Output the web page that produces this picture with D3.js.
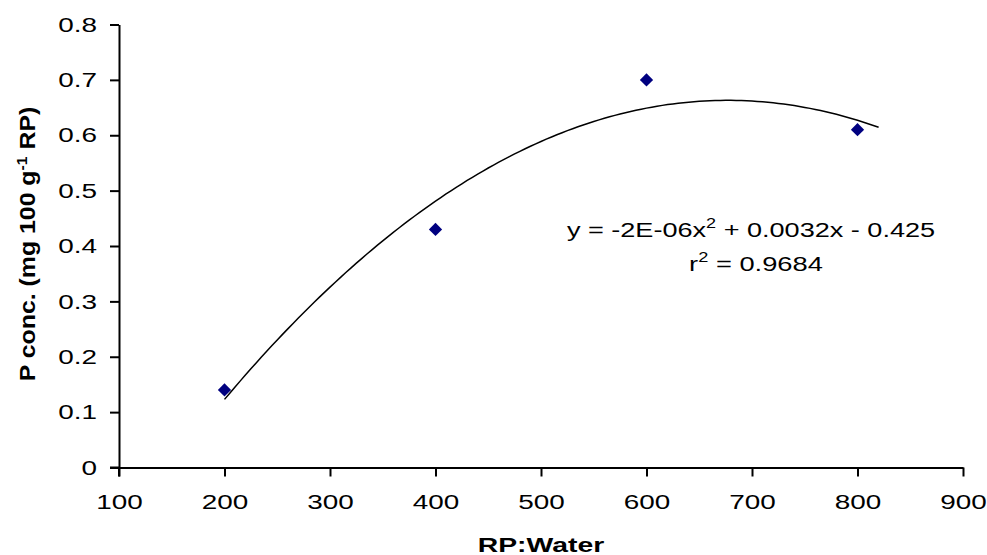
<!DOCTYPE html>
<html>
<head>
<meta charset="utf-8">
<script src="https://cdn.jsdelivr.net/npm/d3@7"></script>
<style>
body { margin: 0; background: #fff; }
text { font-family: "Liberation Sans", Arial, sans-serif; }
</style>
</head>
<body>
<div class="container"></div>
<script>
// data
var ratios = [200, 400, 600, 800];
var pConc = [0.14, 0.43, 0.70, 0.61];
var xTicks = [100, 200, 300, 400, 500, 600, 700, 800, 900];
var yTicks = [0, 0.1, 0.2, 0.3, 0.4, 0.5, 0.6, 0.7, 0.8];
var trendForward = 20; // excel trendline extended forward

var w = 987, h = 555;
var mLeft = 119, mRight = 963, mTop = 24.5, mBottom = 467.5;

var svg = d3.select('.container')
  .append('svg')
  .attr('width', w)
  .attr('height', h);

var xScale = d3.scaleLinear().domain([100, 900]).range([mLeft, mRight]);
var yScale = d3.scaleLinear().domain([0, 0.8]).range([mBottom, mTop]);

// the original font is wider than arial, stretch texts along the baseline
function stretch(sel, s) {
  sel.each(function() {
    var t = d3.select(this);
    var x = +t.attr('x') || 0;
    t.attr('x', x / s).attr('transform', 'scale(' + s + ',1)');
  });
}

// least squares quadratic fit, same as the excel trendline
function polyFit(xs, ys) {
  var s = [0,0,0,0,0], t = [0,0,0];
  xs.forEach(function(x, i) {
    for (var k = 0; k < 5; k++) s[k] += Math.pow(x, k);
    for (var k = 0; k < 3; k++) t[k] += Math.pow(x, k) * ys[i];
  });
  var m = [[s[0],s[1],s[2],t[0]],[s[1],s[2],s[3],t[1]],[s[2],s[3],s[4],t[2]]];
  for (var i = 0; i < 3; i++) {
    for (var j = i + 1; j < 3; j++) {
      var f = m[j][i] / m[i][i];
      for (var k = i; k < 4; k++) m[j][k] -= f * m[i][k];
    }
  }
  var c = [0,0,0];
  for (var i = 2; i >= 0; i--) {
    var v = m[i][3];
    for (var k = i + 1; k < 3; k++) v -= m[i][k] * c[k];
    c[i] = v / m[i][i];
  }
  return c;
}
var coef = polyFit(ratios, pConc);
var trendX = d3.range(ratios[0], ratios[ratios.length-1] + trendForward + 0.1, 5);
var trend = trendX.map(function(x) { return [x, coef[0] + coef[1]*x + coef[2]*x*x]; });

var xAxis = d3.axisBottom(xScale).tickValues(xTicks).tickSize(9).tickSizeOuter(0).tickPadding(18).tickFormat(d3.format('d'));
var yAxis = d3.axisLeft(yScale).tickValues(yTicks).tickSize(9).tickSizeOuter(0).tickPadding(13).tickFormat(function(d) { return d === 0 ? '0' : d3.format('.1f')(d); });

var xg = svg.append('g')
  .attr('transform', 'translate(0,' + mBottom + ')')
  .call(xAxis);
var yg = svg.append('g')
  .attr('transform', 'translate(' + mLeft + ',0)')
  .call(yAxis);

[xg, yg].forEach(function(g) {
  g.select('.domain').attr('stroke', '#000').attr('stroke-width', 2);
  g.selectAll('.tick line').attr('stroke', '#000').attr('stroke-width', 2);
  g.selectAll('.tick text').style('font-size', '21px').attr('fill', '#000');
  stretch(g.selectAll('.tick text'), 1.33);
});

// x axis line extends to the left under the y ticks
svg.append('line')
  .attr('x1', mLeft - 9).attr('x2', mLeft)
  .attr('y1', mBottom).attr('y2', mBottom)
  .attr('stroke', '#000').attr('stroke-width', 2);
// y axis line extends down along the x ticks
svg.append('line')
  .attr('x1', mLeft).attr('x2', mLeft)
  .attr('y1', mBottom).attr('y2', mBottom + 9)
  .attr('stroke', '#000').attr('stroke-width', 2);

// trendline
svg.append('path')
  .datum(trend)
  .attr('d', d3.line().x(function(d) { return xScale(d[0]); }).y(function(d) { return yScale(d[1]); }))
  .attr('fill', 'none')
  .attr('stroke', '#000')
  .attr('stroke-width', 1.5);

// points
svg.selectAll('.pt')
  .data(ratios)
  .enter()
  .append('path')
  .attr('class', 'pt')
  .attr('d', d3.symbol().type(d3.symbolDiamond2).size(112))
  .attr('transform', function(d, i) { return 'translate(' + xScale(d) + ',' + yScale(pConc[i]) + ')'; })
  .attr('fill', '#000080');

// equation
var eqG = svg.append('g').attr('transform', 'translate(751,237) scale(1.29,1)');
var eq = eqG.append('text')
  .attr('text-anchor', 'middle')
  .style('font-size', '21px');
eq.append('tspan').text('y = -2E-06x');
eq.append('tspan').attr('dy', -9).style('font-size', '14px').text('2');
eq.append('tspan').attr('dy', 9).text(' + 0.0032x - 0.425');

var r2G = svg.append('g').attr('transform', 'translate(756,271) scale(1.3,1)');
var r2 = r2G.append('text')
  .attr('text-anchor', 'middle')
  .style('font-size', '21px');
r2.append('tspan').text('r');
r2.append('tspan').attr('dy', -9).style('font-size', '14px').text('2');
r2.append('tspan').attr('dy', 9).text(' = 0.9684');

// axis titles
svg.append('g')
  .attr('transform', 'translate(' + ((mLeft + mRight) / 2) + ',552) scale(1.35,1)')
  .append('text')
  .attr('text-anchor', 'middle')
  .style('font-size', '21px').style('font-weight', 'bold')
  .text('RP:Water');

var yt = svg.append('g')
  .attr('transform', 'translate(35,244) rotate(-90) scale(1.13,1)')
  .append('text')
  .attr('text-anchor', 'middle')
  .style('font-size', '22px').style('font-weight', 'bold');
yt.append('tspan').text('P conc. (mg 100 g');
yt.append('tspan').attr('dy', -8).style('font-size', '14px').text('-1');
yt.append('tspan').attr('dy', 8).text(' RP)');
</script>
</body>
</html>
